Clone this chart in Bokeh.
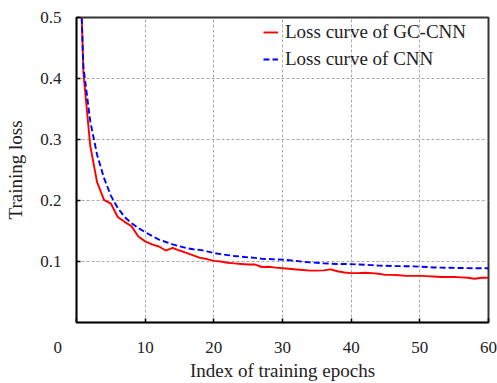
from bokeh.plotting import figure
from bokeh.models import FixedTicker, Range1d, Legend, LegendItem
from bokeh.embed import file_html
from bokeh.resources import INLINE

epochs = list(range(0, 61))
gc_cnn_loss = [0.80, 0.41, 0.29, 0.230, 0.201, 0.195, 0.173, 0.165, 0.158, 0.141,
               0.133, 0.128, 0.1246, 0.118, 0.1225, 0.118, 0.114, 0.110, 0.106, 0.104,
               0.101, 0.100, 0.098, 0.097, 0.096, 0.095, 0.095, 0.091, 0.0915, 0.090,
               0.089, 0.088, 0.087, 0.086, 0.085, 0.085, 0.0855, 0.087, 0.084, 0.082,
               0.081, 0.081, 0.0815, 0.081, 0.080, 0.078, 0.078, 0.0775, 0.0765, 0.0765,
               0.0765, 0.076, 0.0755, 0.0745, 0.0745, 0.0745, 0.074, 0.0733, 0.0718, 0.0733,
               0.0733]
cnn_loss = [0.75, 0.42, 0.33, 0.275, 0.237, 0.208, 0.188, 0.173, 0.163, 0.155,
            0.148, 0.142, 0.136, 0.132, 0.128, 0.125, 0.122, 0.120, 0.119, 0.1165,
            0.114, 0.112, 0.1105, 0.109, 0.108, 0.1068, 0.106, 0.1045, 0.104, 0.1035,
            0.103, 0.102, 0.101, 0.0995, 0.0985, 0.098, 0.097, 0.0965, 0.096, 0.096,
            0.0957, 0.095, 0.0947, 0.094, 0.0933, 0.093, 0.0925, 0.0924, 0.0922, 0.092,
            0.0915, 0.091, 0.0902, 0.090, 0.0897, 0.0895, 0.0893, 0.0891, 0.089, 0.089,
            0.089]
x_ticks = [0, 10, 20, 30, 40, 50, 60]
y_ticks = [0.1, 0.2, 0.3, 0.4, 0.5]
series_labels = ["Loss curve of GC-CNN", "Loss curve of CNN"]

FONT = "Liberation Serif"

p = figure(width=497, height=383, output_backend="svg", toolbar_location=None,
           x_range=Range1d(0, 60), y_range=Range1d(0, 0.5),
           min_border_left=76, min_border_right=9, min_border_top=17, min_border_bottom=59)
p.background_fill_color = "white"
p.border_fill_color = "white"
p.outline_line_color = "#333333"
p.outline_line_width = 2

r1 = p.line(epochs, gc_cnn_loss, line_color="#ff0000", line_width=1.9)
r2 = p.line(epochs, cnn_loss, line_color="#0000ff", line_width=1.9, line_dash="6 3")

for ax in (p.xaxis[0], p.yaxis[0]):
    ax.axis_line_color = "black"
    ax.axis_line_width = 1.5
    ax.major_tick_in = 4
    ax.major_tick_out = 0
    ax.major_tick_line_color = "black"
    ax.major_tick_line_width = 1.5
    ax.minor_tick_line_color = None
    ax.major_label_text_font = FONT
    ax.major_label_text_font_size = "17px"
    ax.major_label_text_color = "#222222"
    ax.axis_label_text_font = FONT
    ax.axis_label_text_font_size = "19px"
    ax.axis_label_text_font_style = "normal"
    ax.axis_label_text_color = "#222222"

p.xaxis.ticker = FixedTicker(ticks=x_ticks)
# the "0" of the x axis sits left of the frame corner in the original
p.xaxis.major_label_overrides = {0: "0\u2003\u2003\u2009"}
p.yaxis.ticker = FixedTicker(ticks=y_ticks)
p.xaxis.major_label_standoff = 15
p.yaxis.major_label_standoff = 15
p.xaxis.axis_label = "Index of training epochs"
p.yaxis.axis_label = "Training loss"
p.xaxis.axis_label_standoff = 0
p.yaxis.axis_label_standoff = 11

for g in (p.xgrid[0], p.ygrid[0]):
    g.grid_line_color = "#aaaaaa"
    g.grid_line_dash = "3 2"
    g.grid_line_width = 1
p.xgrid.ticker = FixedTicker(ticks=x_ticks[1:])
p.ygrid.ticker = FixedTicker(ticks=y_ticks)

legend = Legend(items=[LegendItem(label=series_labels[0], renderers=[r1]),
                       LegendItem(label=series_labels[1], renderers=[r2])],
                location=(187, 252))
legend.label_text_font = FONT
legend.label_text_font_size = "19px"
legend.label_text_color = "#222222"
legend.border_line_color = None
legend.background_fill_alpha = 0
legend.padding = 0
legend.margin = 0
legend.spacing = 5
legend.glyph_width = 15
legend.glyph_height = 20
legend.label_height = 20
legend.label_standoff = 7
p.add_layout(legend)

open("out.html", "w").write(file_html(p, INLINE))
